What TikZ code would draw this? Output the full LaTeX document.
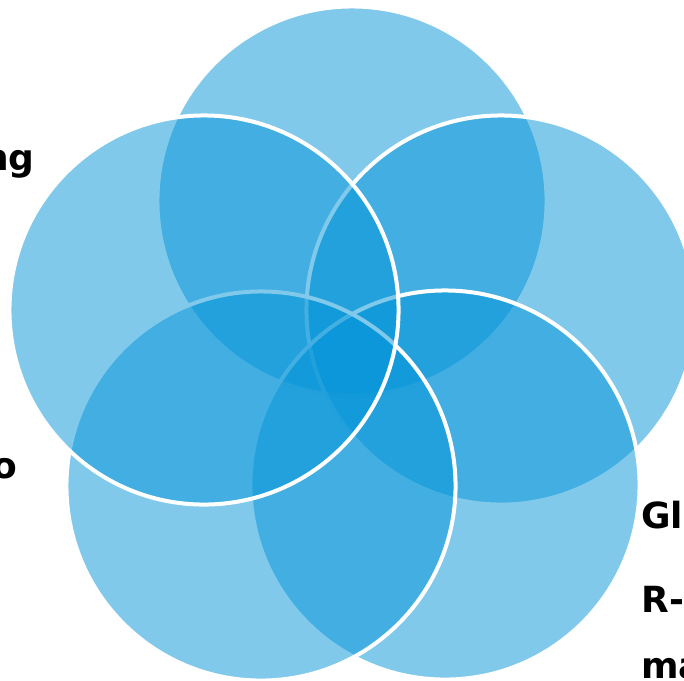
\documentclass[tikz,border=0pt]{standalone}
\usepackage{fontspec}
\setmainfont{DejaVu Sans}
\definecolor{petalblue}{RGB}{4,148,216}

\begin{document}
\begin{tikzpicture}[
  x=0.025cm, y=-0.025cm,
  petal/.style={
    circle,
    draw=white,
    line width=0.1cm,
    fill=petalblue,
    fill opacity=0.5,
    draw opacity=1,
    minimum size=9.725cm,
    inner sep=0pt
  },
  tag/.style={
    inner sep=0pt,
    font=\fontsize{25.6}{30}\selectfont\bfseries
  }
]
\useasboundingbox (0,0) rectangle (684,680);

% Five petals, back to front
\node[petal] (top) at (352,201) {};
\node[petal] (upright) at (501,310) {};
\node[petal] (lowright) at (445,485) {};
\node[petal] (lowleft) at (261,486) {};
\node[petal] (upleft) at (204,310) {};

% Labels cut by the page edge
\node[tag, anchor=base east] (tagng) at (35,170) {ng};
\node[tag, anchor=base east] (tago) at (18,478) {o};
\node[tag, anchor=base west] (taggl) at (641,528) {Gl};
\node[tag, anchor=base west] (tagr) at (641,612) {R-};
\node[tag, anchor=base west] (tagma) at (641,678) {ma};

\end{tikzpicture}
\end{document}
